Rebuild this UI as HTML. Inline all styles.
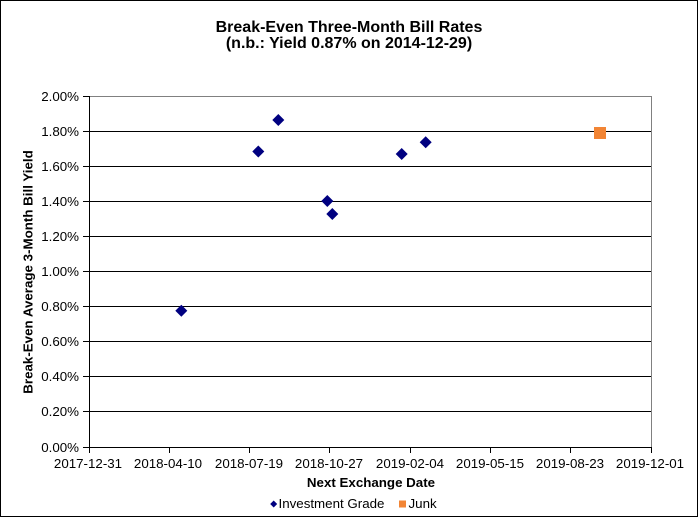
<!DOCTYPE html>
<html><head><meta charset="utf-8"><style>
html,body{margin:0;padding:0;background:#fff;}
svg{display:block;}
text{font-family:"Liberation Sans",Arial,sans-serif;fill:#000;}
</style></head><body>
<svg width="698" height="517" viewBox="0 0 698 517" xmlns="http://www.w3.org/2000/svg">
<rect x="0" y="0" width="698" height="517" fill="#fff"/>
<rect x="0.5" y="0.5" width="697" height="516" fill="none" stroke="#000" stroke-width="1"/>
<!-- title -->
<text x="349" y="32" font-size="16" font-weight="bold" text-anchor="middle">Break-Even Three-Month Bill Rates</text>
<text x="349" y="48" font-size="16" font-weight="bold" text-anchor="middle">(n.b.: Yield 0.87% on 2014-12-29)</text>
<!-- gridlines -->
<g stroke="#000" stroke-width="1" shape-rendering="crispEdges">
<line x1="89" x2="651" y1="131.5" y2="131.5"/>
<line x1="89" x2="651" y1="166.5" y2="166.5"/>
<line x1="89" x2="651" y1="201.5" y2="201.5"/>
<line x1="89" x2="651" y1="236.5" y2="236.5"/>
<line x1="89" x2="651" y1="271.5" y2="271.5"/>
<line x1="89" x2="651" y1="306.5" y2="306.5"/>
<line x1="89" x2="651" y1="341.5" y2="341.5"/>
<line x1="89" x2="651" y1="376.5" y2="376.5"/>
<line x1="89" x2="651" y1="411.5" y2="411.5"/>
</g>
<!-- plot border -->
<g stroke="#808080" stroke-width="1" shape-rendering="crispEdges">
<line x1="89" x2="651" y1="96.5" y2="96.5"/>
<line x1="651.5" x2="651.5" y1="96" y2="447"/>
</g>
<!-- axes -->
<g stroke="#000" stroke-width="1" shape-rendering="crispEdges">
<line x1="89.5" x2="89.5" y1="96" y2="448"/>
<line x1="89" x2="652" y1="447.5" y2="447.5"/>
<line x1="83" x2="89" y1="96.5" y2="96.5"/>
<line x1="83" x2="89" y1="131.5" y2="131.5"/>
<line x1="83" x2="89" y1="166.5" y2="166.5"/>
<line x1="83" x2="89" y1="201.5" y2="201.5"/>
<line x1="83" x2="89" y1="236.5" y2="236.5"/>
<line x1="83" x2="89" y1="271.5" y2="271.5"/>
<line x1="83" x2="89" y1="306.5" y2="306.5"/>
<line x1="83" x2="89" y1="341.5" y2="341.5"/>
<line x1="83" x2="89" y1="376.5" y2="376.5"/>
<line x1="83" x2="89" y1="411.5" y2="411.5"/>
<line x1="83" x2="89" y1="447.5" y2="447.5"/>
<line x1="89.5" x2="89.5" y1="447" y2="453"/>
<line x1="169.5" x2="169.5" y1="447" y2="453"/>
<line x1="249.5" x2="249.5" y1="447" y2="453"/>
<line x1="329.5" x2="329.5" y1="447" y2="453"/>
<line x1="410.5" x2="410.5" y1="447" y2="453"/>
<line x1="490.5" x2="490.5" y1="447" y2="453"/>
<line x1="570.5" x2="570.5" y1="447" y2="453"/>
<line x1="651.5" x2="651.5" y1="447" y2="453"/>
</g>
<!-- y tick labels -->
<g font-size="13.33" text-anchor="end">
<text x="79" y="101">2.00%</text>
<text x="79" y="136">1.80%</text>
<text x="79" y="171">1.60%</text>
<text x="79" y="206">1.40%</text>
<text x="79" y="241">1.20%</text>
<text x="79" y="276">1.00%</text>
<text x="79" y="311">0.80%</text>
<text x="79" y="346">0.60%</text>
<text x="79" y="381">0.40%</text>
<text x="79" y="416">0.20%</text>
<text x="79" y="452">0.00%</text>
</g>
<!-- x tick labels -->
<g font-size="13.33" text-anchor="middle">
<text x="88" y="468">2017-12-31</text>
<text x="168" y="468">2018-04-10</text>
<text x="249" y="468">2018-07-19</text>
<text x="329" y="468">2018-10-27</text>
<text x="410" y="468">2019-02-04</text>
<text x="490" y="468">2019-05-15</text>
<text x="570" y="468">2019-08-23</text>
<text x="650" y="468">2019-12-01</text>
</g>
<!-- axis titles -->
<text x="371" y="487" font-size="13.33" font-weight="bold" text-anchor="middle">Next Exchange Date</text>
<text transform="translate(32.5,272) rotate(-90)" x="0" y="0" font-size="13.33" font-weight="bold" text-anchor="middle">Break-Even Average 3-Month Bill Yield</text>
<!-- data: investment grade -->
<g fill="#000080">
<polygon points="181.3,304.7 187.3,310.7 181.3,316.7 175.3,310.7"/>
<polygon points="258.3,145.5 264.3,151.5 258.3,157.5 252.3,151.5"/>
<polygon points="278.3,114 284.3,120 278.3,126 272.3,120"/>
<polygon points="327.3,195 333.3,201 327.3,207 321.3,201"/>
<polygon points="332.3,208 338.3,214 332.3,220 326.3,214"/>
<polygon points="401.7,148 407.7,154 401.7,160 395.7,154"/>
<polygon points="425.7,136.3 431.7,142.3 425.7,148.3 419.7,142.3"/>
</g>
<!-- junk -->
<rect x="594" y="127" width="12" height="12" fill="#f28535"/>
<!-- legend -->
<polygon points="273.7,500.5 277.2,504 273.7,507.5 270.2,504" fill="#000080"/>
<text x="278.5" y="508" font-size="13.33">Investment Grade</text>
<rect x="399" y="500.5" width="7" height="7" fill="#f28535"/>
<text x="408.5" y="508" font-size="13.33">Junk</text>
</svg>
</body></html>
